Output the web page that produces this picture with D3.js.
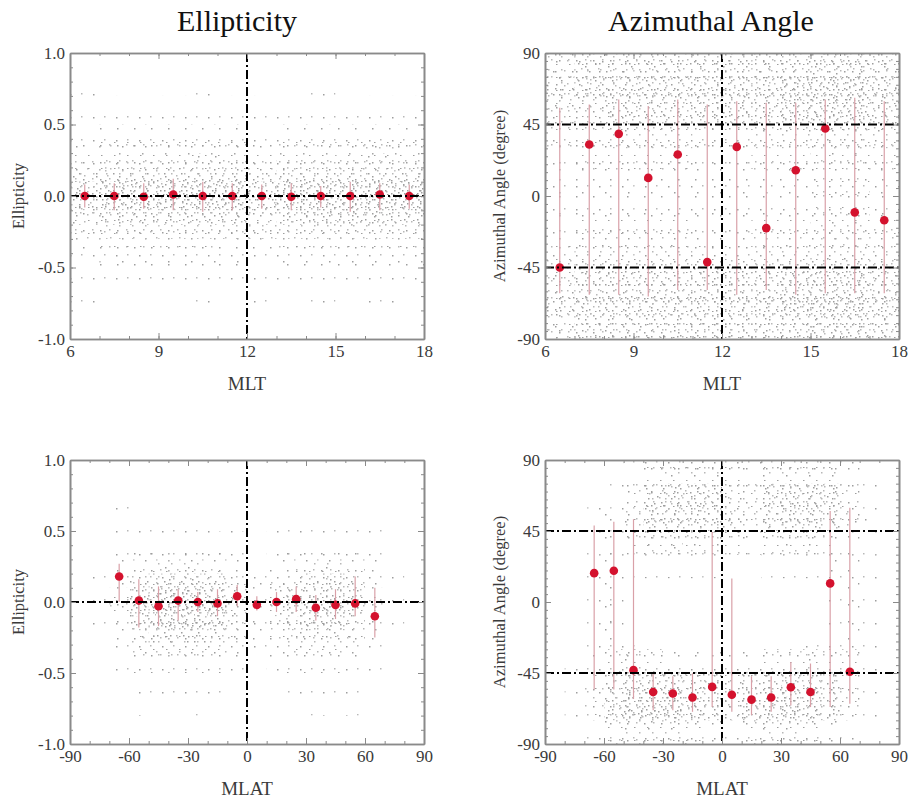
<!DOCTYPE html>
<html>
<head>
<meta charset="utf-8">
<script src="https://cdn.jsdelivr.net/npm/d3@7"></script>
<style>
  body { margin: 0; background: #fff; }
  text { font-family: "Liberation Serif", "Times New Roman", serif; }
</style>
</head>
<body>
<svg id="fig" width="909" height="804"></svg>
<script>
// ---- data ----
var mltBins = [6.5, 7.5, 8.5, 9.5, 10.5, 11.5, 12.5, 13.5, 14.5, 15.5, 16.5, 17.5];
var mlatBins = [-65, -55, -45, -35, -25, -15, -5, 5, 15, 25, 35, 45, 55, 65];

var ellMlt   = [0.0, 0.0, -0.005, 0.01, 0.0, 0.0, 0.0, -0.005, 0.0, 0.0, 0.01, 0.0];
var ellMltHi = [0.08, 0.09, 0.09, 0.12, 0.1, 0.09, 0.08, 0.09, 0.07, 0.1, 0.09, 0.08];
var ellMltLo = [-0.08, -0.1, -0.09, -0.1, -0.11, -0.1, -0.09, -0.1, -0.08, -0.11, -0.1, -0.09];

var azMlt   = [-45.0, 32.4, 39.1, 11.4, 26.1, -41.6, 30.9, -20.2, 16.2, 42.5, -10.3, -15.3];
var azMltHi = [55.5, 57.6, 60.8, 56.6, 60.8, 57.6, 59.7, 58.7, 58.7, 60.8, 61.8, 59.7];
var azMltLo = [-61.2, -62.2, -62.2, -63.3, -59.1, -59.1, -62.2, -59.1, -62.2, -61.2, -61.2, -61.2];

var ellMlat   = [0.18, 0.01, -0.03, 0.01, 0.0, -0.01, 0.04, -0.02, 0.0, 0.02, -0.04, -0.02, -0.01, -0.1];
var ellMlatHi = [0.27, 0.16, 0.11, 0.09, 0.07, 0.09, 0.12, 0.04, 0.07, 0.11, 0.05, 0.09, 0.18, 0.1];
var ellMlatLo = [0.0, -0.18, -0.17, -0.13, -0.07, -0.1, -0.03, -0.06, -0.07, -0.07, -0.13, -0.12, -0.1, -0.25];

var azMlat   = [18.3, 19.8, -43.2, -57.0, -58.0, -60.5, -53.8, -58.8, -61.9, -60.5, -54.0, -57.0, 11.8, -44.2];
var azMlatHi = [48.5, 50.9, 52.5, -45.2, -47, -45.2, 44.4, 14.9, -47, -47, -38, -39, 57.6, 59.7];
var azMlatLo = [-55.4, -55.4, -61.5, -68.6, -68.6, -69.6, -66.6, -69.6, -71.7, -69.6, -65.6, -66.6, -66.6, -64.5];

// density of the grey event cloud, one digit (0-9) per cell, top row first
var ellMltCloud = [
  "000000000000", "000000000000", "100010001000", "110101101011",
  "111111111111", "122222122222", "233333233343", "344454344454",
  "566666566666", "788888788888", "788888788888", "566666567776",
  "344444445554", "233332233333", "122222122222", "111111111111",
  "101101110111", "100010101010", "000000000000", "000000000000"
];
var azMltCloud = [
  "566666666776", "677777778887", "556666667776", "334443344554",
  "233332233443", "222222222332", "222222222332", "233332233443",
  "344443344554", "566666667776", "677777778887", "566666666776"
];
var ellMlatCloud = [
  "000000000000000000", "000000000000000000", "000000000000000000", "001000000000000000",
  "001111100001111100", "001111111011111100", "001222221012222100", "002344432123443210",
  "012577764235675210", "013688875246776310", "013799985247886310", "012688875236775210",
  "012466654235554210", "001344432123332100", "001222221012221100", "001111111011111100",
  "000111110001111000", "000100100000101000", "000000000000000000", "000000000000000000"
];
var azMlatCloud = [
  "000013444324444200", "000136777547777310", "001247777646776420", "001234544323443210",
  "001211111001112210", "001200000000001210", "001200000000001210", "001210000000011210",
  "012343222223343310", "013677766566776310", "013788876577876310", "001344432134432100"
];

var ellTicks = [-1, -0.5, 0, 0.5, 1];
var azTicks = [-90, -45, 0, 45, 90];
var mltTicks = [6, 9, 12, 15, 18];
var mlatTicks = [-90, -60, -30, 0, 30, 60, 90];

// ---- drawing ----
var svg = d3.select("#fig");

// speckle texture for the density cells: three tiles of coprime size
// laid on top of each other so the dots don't show a grid
var dotSpots = [[1,2],[9,1],[5,6],[13,5],[3,11],[11,10],[7,14],[15,13],[6,3],[14,2],
  [2,7],[10,6],[4,15],[12,14],[8,10],[0,12],[3,0],[11,3],[7,8],[15,9]];
var defs = svg.append("defs");
var tiles = [
  { size: 23, key: "a", spots: dotSpots, count: [0, 2, 3, 4, 5, 6, 7, 9, 11, 13] },
  { size: 17, key: "b", spots: dotSpots.slice().reverse(), count: [0, 0, 1, 2, 2, 3, 5, 6, 8, 10] },
  { size: 13, key: "c", spots: dotSpots.slice(7).concat(dotSpots.slice(0, 7)).map(function(s) { return [s[1], s[0]]; }),
    count: [0, 0, 0, 1, 2, 2, 3, 4, 5, 6] }
];
tiles.forEach(function(t) {
  d3.range(1, 10).forEach(function(lvl) {
    var p = defs.append("pattern")
      .attr("id", "dots" + t.key + lvl)
      .attr("patternUnits", "userSpaceOnUse")
      .attr("width", t.size).attr("height", t.size);
    t.spots.slice(0, t.count[lvl]).forEach(function(s, i) {
      p.append("rect")
        .attr("x", Math.floor(s[0] * t.size / 16))
        .attr("y", Math.floor(s[1] * t.size / 16))
        .attr("width", 1.5).attr("height", 1.5)
        .attr("fill", i % 2 == 0 ? "#9e9e9e" : "#b8b8b8");
    });
  });
});

var panels = [
  { left: 70, right: 424, top: 53, bottom: 339, xdom: [6, 18], ydom: [-1, 1],
    xt: mltTicks, xminor: 1, yt: ellTicks, yminor: 0.1, yfmt: function(d) { return d.toFixed(1); },
    cloud: ellMltCloud, xs: mltBins, ys: ellMlt, hi: ellMltHi, lo: ellMltLo,
    hlines: [0], vline: 12, xlab: "MLT", ylab: "Ellipticity", yoff: 46 },
  { left: 545, right: 899, top: 53, bottom: 339, xdom: [6, 18], ydom: [-90, 90],
    xt: mltTicks, xminor: 1, yt: azTicks, yminor: 5, yfmt: function(d) { return String(d); },
    cloud: azMltCloud, xs: mltBins, ys: azMlt, hi: azMltHi, lo: azMltLo,
    hlines: [45, -45], vline: 12, xlab: "MLT", ylab: "Azimuthal Angle (degree)", yoff: 40 },
  { left: 70, right: 424, top: 460, bottom: 744, xdom: [-90, 90], ydom: [-1, 1],
    xt: mlatTicks, xminor: 10, yt: ellTicks, yminor: 0.1, yfmt: function(d) { return d.toFixed(1); },
    cloud: ellMlatCloud, xs: mlatBins, ys: ellMlat, hi: ellMlatHi, lo: ellMlatLo,
    hlines: [0], vline: 0, xlab: "MLAT", ylab: "Ellipticity", yoff: 46 },
  { left: 545, right: 899, top: 460, bottom: 744, xdom: [-90, 90], ydom: [-90, 90],
    xt: mlatTicks, xminor: 10, yt: azTicks, yminor: 5, yfmt: function(d) { return String(d); },
    cloud: azMlatCloud, xs: mlatBins, ys: azMlat, hi: azMlatHi, lo: azMlatLo,
    hlines: [45, -45], vline: 0, xlab: "MLAT", ylab: "Azimuthal Angle (degree)", yoff: 40 }
];

panels.forEach(function(p) {
  var x = d3.scaleLinear().domain(p.xdom).range([p.left, p.right]);
  var y = d3.scaleLinear().domain(p.ydom).range([p.bottom, p.top]);
  var g = svg.append("g");

  // grey event cloud
  var nr = p.cloud.length, nc = p.cloud[0].length;
  var cw = (p.xdom[1] - p.xdom[0]) / nc, ch = (p.ydom[1] - p.ydom[0]) / nr;
  var cells = [];
  p.cloud.forEach(function(row, r) {
    row.split("").forEach(function(v, c) {
      if (+v > 0) cells.push({ x0: p.xdom[0] + c * cw, y1: p.ydom[1] - r * ch, lvl: +v });
    });
  });
  tiles.forEach(function(t) {
    g.append("g").selectAll("rect")
      .data(cells.filter(function(d) { return t.count[d.lvl] > 0; }))
      .enter()
      .append("rect")
      .attr("x", function(d) { return x(d.x0); })
      .attr("y", function(d) { return y(d.y1); })
      .attr("width", function(d) { return x(d.x0 + cw) - x(d.x0); })
      .attr("height", function(d) { return y(d.y1 - ch) - y(d.y1); })
      .attr("fill", function(d) { return "url(#dots" + t.key + d.lvl + ")"; });
  });

  // error bars
  g.append("g").selectAll("line")
    .data(p.xs)
    .enter()
    .append("line")
    .attr("x1", function(d) { return x(d); })
    .attr("x2", function(d) { return x(d); })
    .attr("y1", function(d, i) { return y(p.hi[i]); })
    .attr("y2", function(d, i) { return y(p.lo[i]); })
    .attr("stroke", "#d9a0a8")
    .attr("stroke-width", 1.2);

  // mean values
  g.append("g").selectAll("circle")
    .data(p.xs)
    .enter()
    .append("circle")
    .attr("cx", function(d) { return x(d); })
    .attr("cy", function(d, i) { return y(p.ys[i]); })
    .attr("r", 4.3)
    .attr("fill", "#d4122e");

  // dash-dot reference lines
  var dash = "9,3,2,3";
  p.hlines.forEach(function(h) {
    g.append("line")
      .attr("x1", p.left).attr("x2", p.right)
      .attr("y1", y(h)).attr("y2", y(h))
      .attr("stroke", "#000").attr("stroke-width", 2)
      .attr("stroke-dasharray", dash);
  });
  g.append("line")
    .attr("x1", x(p.vline)).attr("x2", x(p.vline))
    .attr("y1", p.top).attr("y2", p.bottom)
    .attr("stroke", "#000").attr("stroke-width", 2)
    .attr("stroke-dasharray", dash);

  // frame with inward ticks on all sides
  var xMinor = d3.range(p.xdom[0], p.xdom[1] + 1e-9, p.xminor);
  var yMinor = d3.range(p.ydom[0], p.ydom[1] + 1e-9, p.yminor);
  var xfmt = function(d) { return String(d); };
  var axes = [
    [d3.axisBottom(x).tickValues(p.xt).tickSizeInner(-6).tickPadding(6).tickFormat(xfmt), "translate(0," + p.bottom + ")", true],
    [d3.axisBottom(x).tickValues(xMinor).tickSizeInner(-3), "translate(0," + p.bottom + ")", false],
    [d3.axisTop(x).tickValues(p.xt).tickSizeInner(-6), "translate(0," + p.top + ")", false],
    [d3.axisTop(x).tickValues(xMinor).tickSizeInner(-3), "translate(0," + p.top + ")", false],
    [d3.axisLeft(y).tickValues(p.yt).tickSizeInner(-6).tickPadding(5).tickFormat(p.yfmt), "translate(" + p.left + ",0)", true],
    [d3.axisLeft(y).tickValues(yMinor).tickSizeInner(-3), "translate(" + p.left + ",0)", false],
    [d3.axisRight(y).tickValues(p.yt).tickSizeInner(-6), "translate(" + p.right + ",0)", false],
    [d3.axisRight(y).tickValues(yMinor).tickSizeInner(-3), "translate(" + p.right + ",0)", false]
  ];
  axes.forEach(function(a) {
    var ax = g.append("g").attr("transform", a[1]).call(a[0].tickSizeOuter(0));
    ax.select(".domain").attr("stroke", "#8a8a8a").attr("stroke-width", 1.6);
    ax.selectAll(".tick line").attr("stroke", "#8a8a8a").attr("stroke-width", 1);
    if (a[2]) {
      ax.selectAll(".tick text")
        .attr("fill", "#3a3a3a")
        .style("font-size", "17px")
        .style("font-family", "'Liberation Serif', serif");
    } else {
      ax.selectAll(".tick text").remove();
    }
  });

  // axis titles
  g.append("text")
    .attr("x", (p.left + p.right) / 2)
    .attr("y", p.bottom + 51)
    .attr("text-anchor", "middle")
    .attr("fill", "#3a3a3a")
    .style("font-size", "19px")
    .text(p.xlab);
  g.append("text")
    .attr("transform", "translate(" + (p.left - p.yoff) + "," + y(0) + ") rotate(-90)")
    .attr("text-anchor", "middle")
    .attr("fill", "#3a3a3a")
    .style("font-size", "16.5px")
    .text(p.ylab);
});

// column titles
svg.append("text").attr("x", 237).attr("y", 31).attr("text-anchor", "middle")
  .style("font-size", "30px").attr("fill", "#111").text("Ellipticity");
svg.append("text").attr("x", 711).attr("y", 31).attr("text-anchor", "middle")
  .style("font-size", "30px").attr("fill", "#111").text("Azimuthal Angle");
</script>
</body>
</html>
